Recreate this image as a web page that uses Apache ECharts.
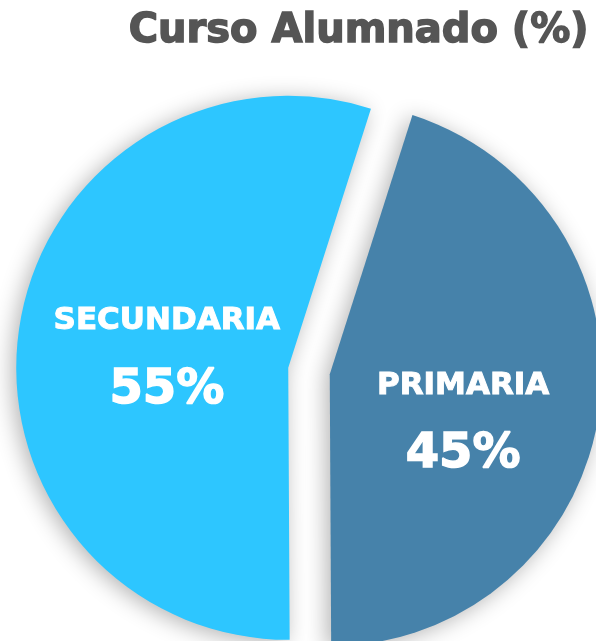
<!DOCTYPE html>
<html>
<head>
<meta charset="utf-8">
<script src="https://cdn.jsdelivr.net/npm/echarts@6/dist/echarts.min.js"></script>
<style>
  html, body { margin: 0; padding: 0; background: #fff; }
  #chart { width: 596px; height: 641px; }
</style>
</head>
<body>
<div id="chart"></div>
<script>
const categories = ['PRIMARIA', 'SECUNDARIA']
const percents = [45, 55]
const colors = ['#4682AA', '#2DC6FF']
// padding [top, right, bottom, left] nudges each label to where the original has it
const labelPadding = [[50, 8, 0, 0], [18, 0, 0, 32]]

const chart = echarts.init(document.getElementById('chart'))

const pieData = categories.map((name, i) => ({
  name: name,
  value: percents[i],
  selected: true,
  itemStyle: { color: colors[i] },
  label: { padding: labelPadding[i] }
}))

chart.setOption({
  animation: false,
  title: {
    text: 'Curso Alumnado (%)',
    right: 1,
    top: 7,
    textStyle: {
      fontFamily: 'DejaVu Sans',
      fontSize: 40,
      fontWeight: 'bold',
      color: '#555555',
      textBorderColor: '#555555',
      textBorderWidth: 1.5
    }
  },
  series: [
    {
      type: 'pie',
      center: [309, 371],
      radius: 272,
      startAngle: 72.3,
      clockwise: true,
      selectedMode: 'multiple',
      selectedOffset: 21,
      itemStyle: {
        shadowBlur: 22,
        shadowColor: 'rgba(0, 0, 0, 0.3)',
        shadowOffsetX: -4,
        shadowOffsetY: 3
      },
      label: {
        position: 'inside',
        formatter: '{a|{b}}\n{b|{d}%}',
        rich: {
          a: {
            fontFamily: 'DejaVu Sans',
            fontSize: 31,
            fontWeight: 'bold',
            color: '#fff',
            textBorderColor: '#fff',
            textBorderWidth: 1,
            lineHeight: 69
          },
          b: {
            fontFamily: 'DejaVu Sans',
            fontSize: 48,
            fontWeight: 'bold',
            color: '#fff',
            textBorderColor: '#fff',
            textBorderWidth: 1.5,
            lineHeight: 69
          }
        }
      },
      labelLine: { show: false },
      emphasis: { disabled: true },
      data: pieData
    }
  ]
})
</script>
</body>
</html>
